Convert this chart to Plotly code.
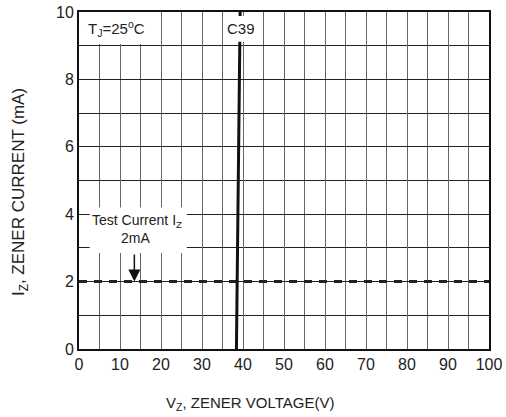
import plotly.graph_objects as go

# ---- data ----
vz_curve = [38.4, 39.3]          # C39 zener curve, V
iz_curve = [0, 10]               # mA
test_current_x = [0, 100]
test_current_y = [2, 2]
x_ticks = [0, 10, 20, 30, 40, 50, 60, 70, 80, 90, 100]
y_ticks = [0, 2, 4, 6, 8, 10]

TICKFONT = dict(family="Liberation Sans Narrow, Liberation Sans, Arial", size=16, color="#222")
TXTFONT = dict(family="Liberation Sans, Arial", size=15, color="#222")

fig = go.Figure()
fig.add_trace(go.Scatter(x=test_current_x, y=test_current_y, mode="lines",
                         line=dict(color="#222", width=3, dash="8px,7px"),
                         hoverinfo="skip", showlegend=False))
fig.add_trace(go.Scatter(x=vz_curve, y=iz_curve, mode="lines",
                         line=dict(color="#111", width=3),
                         hoverinfo="skip", showlegend=False, cliponaxis=False))

shapes = [
    dict(type="rect", xref="x", yref="y", x0=0, x1=19.7, y0=9.05, y1=10,
         fillcolor="white", line=dict(width=0), layer="between"),
    dict(type="rect", xref="x", yref="y", x0=2.6, x1=26.3, y0=2.85, y1=4.2,
         fillcolor="white", line=dict(width=0), layer="between"),
    dict(type="rect", xref="x", yref="y", x0=36.0, x1=44.0, y0=9.12, y1=9.88,
         fillcolor="white", line=dict(width=0), layer="above"),
]

annotations = [
    dict(x=9.2, y=9.5, xref="x", yref="y", text="T<sub>J</sub>=25<sup>o</sup>C",
         showarrow=False, font=TXTFONT),
    dict(x=39.6, y=9.5, xref="x", yref="y", text="C39", showarrow=False, font=TXTFONT),
    dict(x=14.2, y=3.79, xref="x", yref="y", text="Test Current I<sub>Z</sub>",
         showarrow=False, font=dict(family="Liberation Sans, Arial", size=14, color="#222")),
    dict(x=13.7, y=3.28, xref="x", yref="y", text="2mA",
         showarrow=False, font=dict(family="Liberation Sans, Arial", size=14, color="#222")),
    dict(x=13.5, y=2.0, xref="x", yref="y", ax=13.5, ay=2.85, axref="x", ayref="y",
         text="", showarrow=True, arrowhead=2, arrowsize=1.6, arrowwidth=1.5,
         arrowcolor="#111"),
    dict(x=0.417, y=-0.163, xref="paper", yref="paper",
         text="V<sub>Z</sub>, ZENER VOLTAGE(V)", showarrow=False, font=TXTFONT,
         xanchor="center", yanchor="middle"),
    dict(x=-0.142, y=0.465, xref="paper", yref="paper",
         text="I<sub>Z</sub>, ZENER CURRENT (mA)", showarrow=False,
         font=dict(family="Liberation Sans, Arial", size=17, color="#222"),
         textangle=-90, xanchor="center", yanchor="middle"),
]

fig.update_layout(
    width=506, height=417, autosize=False,
    margin=dict(l=79, r=12, t=4, b=68),
    paper_bgcolor="white", plot_bgcolor="white",
    shapes=shapes, annotations=annotations,
    xaxis=dict(range=[0, 100], tickvals=x_ticks, ticktext=[str(v) for v in x_ticks],
               showgrid=True, gridcolor="#666", gridwidth=1,
               minor=dict(dtick=5, tick0=0, showgrid=True, gridcolor="#666", gridwidth=1),
               showline=True, linecolor="#111", linewidth=2, mirror=True,
               zeroline=False, ticks="", tickfont=TICKFONT, fixedrange=True,
               ticklabeloverflow="allow"),
    yaxis=dict(range=[0, 10], tickvals=y_ticks, ticktext=[str(v) for v in y_ticks],
               showgrid=True, gridcolor="#222", gridwidth=1,
               minor=dict(dtick=1, tick0=0, showgrid=True, gridcolor="#222", gridwidth=1),
               showline=True, linecolor="#111", linewidth=2, mirror=True,
               zeroline=False, ticks="", tickfont=TICKFONT, fixedrange=True,
               ticklabeloverflow="allow"),
)

fig.write_html("out.html", config={"displayModeBar": False},
               post_script="document.body.style.margin='0';document.body.style.overflow='hidden';")
